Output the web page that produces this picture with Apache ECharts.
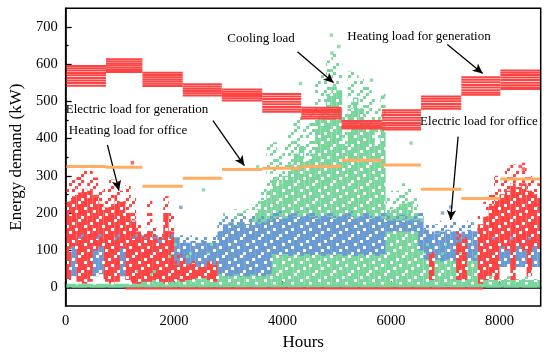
<!DOCTYPE html>
<html><head><meta charset="utf-8">
<script src="https://cdn.jsdelivr.net/npm/echarts@6/dist/echarts.min.js"></script>
<style>html,body{margin:0;padding:0;background:#fff}#c{width:550px;height:356px}</style>
</head><body><div id="c"></div>
<script>
// ---------- DATA ----------
const monthEdges = [0,744,1416,2160,2880,3624,4344,5088,5832,6552,7296,8016,8760];
const elecGen = [325,323,272,293,317,320,325,342,329,264,239,291];
const heatGen = [
  [595,589,583,576,570,563,556,549,542],
  [613,607,601,596,590,584,579],
  [577,571,565,559,553,547,541],
  [546,540,534,528,522,516],
  [532,526,520,514,508,502],
  [520,513,506,499,492,485,478,472],
  [483,477,471,465,459,454],
  [447,441,436,431,427],
  [476,470,463,456,449,442,436,429,424],
  [513,507,500,493,486,480],
  [565,558,551,544,537,530,523,518],
  [583,577,571,564,557,550,543,537,533]
];
const colWidth = 100; // hours per column of the dense scatter clouds
const N = null;
const heatOfficeLow  = [20,110,15,10,15,100,110,15,10,15,105,20,10,10,15,15,20,15,10,15,20,15,20,20,25,25,20,15,N,N,N,N,N,N,N,N,N,N,N,N,N,N,N,N,N,N,N,N,N,N,N,N,N,N,N,N,N,N,N,N,N,N,N,N,N,N,N,20,N,N,N,N,20,20,N,N,10,20,30,20,110,100,20,110,100,30,110,100];
const heatOfficeMid  = [230,245,255,265,260,245,225,215,220,240,230,200,180,150,130,150,130,120,200,150,60,75,60,65,55,50,70,60,N,N,N,N,N,N,N,N,N,N,N,N,N,N,N,N,N,N,N,N,N,N,N,N,N,N,N,N,N,N,N,N,N,N,N,N,N,N,N,90,N,N,N,N,120,130,N,N,170,190,220,240,250,260,280,270,280,260,250,240];
const heatOfficeHigh = [290,290,310,320,320,295,260,265,290,285,260,275,240,170,160,235,160,150,245,200,90,90,75,75,65,60,80,75,N,N,N,N,N,N,N,N,N,N,N,N,N,N,N,N,N,N,N,N,N,N,N,N,N,N,N,N,N,N,N,N,N,N,N,N,N,N,N,100,N,N,N,N,150,155,N,N,200,230,260,300,290,320,330,320,335,300,290,280];
const elecOfficeLow  = [35,30,30,35,30,30,35,30,30,35,30,30,35,30,30,35,30,30,35,30,30,30,35,30,30,35,30,30,35,30,30,35,30,30,35,30,30,35,90,85,90,85,90,85,90,85,90,85,90,85,90,85,90,85,90,85,90,85,90,150,150,150,150,150,150,100,75,70,75,70,75,70,75,70,75,70,55,55,55,55,55,55,55,55,55,55,55,55];
const elecOfficeMid  = [140,135,130,125,135,130,125,130,135,125,130,135,130,135,140,135,140,135,140,130,135,125,120,125,120,125,120,125,150,170,175,165,175,170,175,170,175,180,185,190,185,195,190,190,195,190,185,195,190,185,190,195,190,185,190,195,185,190,185,180,180,180,180,180,180,185,155,150,145,150,155,150,145,150,155,150,120,120,120,120,120,120,120,120,120,120,120,120];
const elecOfficeHigh = [160,155,150,150,155,150,145,150,155,150,150,155,150,155,155,150,155,150,155,150,150,140,135,140,135,140,135,140,175,190,190,185,195,190,195,190,195,195,200,205,200,205,205,200,210,205,200,205,200,200,205,210,205,200,205,205,200,205,200,195,195,195,195,195,195,200,180,175,170,180,175,185,170,175,180,175,135,135,135,135,135,135,135,135,135,135,135,135];
const coolingMid  = [10,10,10,10,10,10,10,10,10,10,10,10,10,40,45,30,35,70,60,65,90,90,70,75,70,110,90,95,140,160,165,170,175,170,185,210,235,260,290,280,300,330,360,380,340,360,450,480,520,540,530,380,480,510,480,440,430,380,440,200,210,220,225,230,200,150,90,85,90,80,90,85,90,80,85,70,20,20,20,20,20,20,20,20,20,20,20,20];
const coolingHigh = [10,10,10,10,10,10,10,10,10,10,10,10,10,60,60,45,50,95,85,90,125,120,100,100,95,140,120,120,185,200,205,210,205,210,220,240,280,385,390,360,400,420,460,480,440,470,570,570,610,630,610,470,580,585,560,540,530,480,520,240,260,260,280,270,240,200,125,120,125,115,125,120,125,110,120,100,30,30,30,30,30,30,30,30,30,30,30,30];
const coolingBase = [[0, 8760, 4]];
const coolingSpikes = [[2540,262],[3540,324],[4330,548],[4910,630],[4900,678],[5036,647],[5640,557],[5860,512],[6370,388]];
const elecOfficeSpikes = [[2125,215],[7100,216],[6950,200]];
const heatOfficeSpikes = [[1230,335],[8380,325],[8440,318]];
const heatOfficeBase = [[1100, 7700, -3]];
const xLabels = [0,2000,4000,6000,8000];
const xMinor = [1000,3000,5000,7000];
const yLabels = [0,100,200,300,400,500,600,700];
const yMinor = [50,150,250,350,450,550,650];

// ---------- STYLE ----------
const RED = '#FF4242', GREEN = '#78D69C', BLUE = '#6A9AD3', ORANGE = '#FFAD60';
const FONT = '"Liberation Serif","Times New Roman",serif';
// texture masks (6x6 cells of 3 px) to imitate densely packed square markers
const DENSE = ['111011','110111','011111','111101','101111','111110'];
const SPARSE = ['100100','001001','010000','100010','000100','011000'];
function pattern(color, mask) {
  const c = document.createElement('canvas');
  c.width = 18; c.height = 18;
  const g = c.getContext('2d');
  g.fillStyle = color;
  mask.forEach((row, r) => row.split('').forEach((ch, k) => {
    if (ch === '1') g.fillRect(k * 3, r * 3, 3, 3);
  }));
  return { type: 'pattern', image: c, repeat: 'repeat' };
}

function cloud(name, low, mid, high, color, z) {
  const data = [];
  low.forEach((l, i) => {
    if (l == null) return;
    data.push([i * colWidth, Math.min((i + 1) * colWidth, 8760), l, mid[i], high[i]]);
  });
  const dense = pattern(color, DENSE), sparse = pattern(color, SPARSE);
  return {
    type: 'custom', name, z, clip: true, silent: true,
    encode: { x: [0, 1], y: [2, 3, 4] },
    data,
    renderItem(params, api) {
      const p0 = api.coord([api.value(0), api.value(2)]);
      const p1 = api.coord([api.value(1), api.value(3)]);
      const p2 = api.coord([api.value(1), api.value(4)]);
      return { type: 'group', children: [
        { type: 'rect', shape: { x: p0[0], y: p2[1], width: p1[0] - p0[0], height: p1[1] - p2[1] }, style: { fill: sparse } },
        { type: 'rect', shape: { x: p0[0], y: p1[1], width: p1[0] - p0[0], height: p0[1] - p1[1] }, style: { fill: dense } }
      ]};
    }
  };
}
function segs(name, rows, color, width, z) {
  return {
    type: 'custom', name, z, clip: true, silent: true,
    encode: { x: [0, 1], y: 2 },
    data: rows,
    renderItem(params, api) {
      const a = api.coord([api.value(0), api.value(2)]);
      const b = api.coord([api.value(1), api.value(2)]);
      return { type: 'line', shape: { x1: a[0], y1: a[1], x2: b[0], y2: b[1] }, style: { stroke: color, lineWidth: width } };
    }
  };
}
const heatGenRows = [];
heatGen.forEach((lv, m) => lv.forEach(v => heatGenRows.push([monthEdges[m], monthEdges[m + 1], v])));
const elecGenRows = elecGen.map((v, m) => [monthEdges[m], monthEdges[m + 1], v]);

const axisTxt = { fontFamily: FONT, fontSize: 14.5, color: '#000', formatter: v => String(v) };
const chart = echarts.init(document.getElementById('c'), null, { renderer: 'canvas' });
chart.setOption({
  animation: false,
  grid: { left: 57.5, right: 9.3, top: 8.3, bottom: 50, show: true, borderColor: '#000', borderWidth: 1.5, backgroundColor: 'transparent', z: 10 },
  xAxis: [
    { type: 'value', min: 0, max: 8760, position: 'bottom', splitLine: { show: false },
      axisLine: { show: true, lineStyle: { color: '#000', width: 1.5 } },
      axisTick: { show: true, inside: true, length: 6, customValues: xLabels, lineStyle: { color: '#000', width: 1.3 } },
      axisLabel: { customValues: xLabels, margin: 8, ...axisTxt },
      name: 'Hours', nameLocation: 'middle', nameGap: 27, nameTextStyle: { fontFamily: FONT, fontSize: 17, color: '#000' } },
    { type: 'value', min: 0, max: 8760, position: 'bottom', splitLine: { show: false },
      axisLine: { show: false },
      axisTick: { show: true, inside: true, length: 3, customValues: xMinor, lineStyle: { color: '#000', width: 1.3 } },
      axisLabel: { show: false } }
  ],
  yAxis: [
    { type: 'value', min: -50, max: 750, position: 'left', splitLine: { show: false },
      axisLine: { show: true, lineStyle: { color: '#000', width: 1.5 } },
      axisTick: { show: true, inside: true, length: 6, customValues: yLabels, lineStyle: { color: '#000', width: 1.3 } },
      axisLabel: { customValues: yLabels, margin: 8, ...axisTxt },
      name: 'Energy demand (kW)', nameLocation: 'middle', nameGap: 34, nameTextStyle: { fontFamily: FONT, fontSize: 17, color: '#000' } },
    { type: 'value', min: -50, max: 750, position: 'left', splitLine: { show: false },
      axisLine: { show: false },
      axisTick: { show: true, inside: true, length: 3, customValues: yMinor, lineStyle: { color: '#000', width: 1.3 } },
      axisLabel: { show: false } }
  ],
  series: [
    segs('Cooling base', coolingBase, GREEN, 3, 1),
    cloud('Cooling load', coolingMid.map(() => 0), coolingMid, coolingHigh, GREEN, 1),
    cloud('Electric load for office', elecOfficeLow, elecOfficeMid, elecOfficeHigh, BLUE, 2),
    cloud('Heating load for office', heatOfficeLow, heatOfficeMid, heatOfficeHigh, RED, 3),
    segs('Heating office base', heatOfficeBase, RED, 2.2, 3),
    { type: 'scatter', name: 'cool spikes', data: coolingSpikes, symbol: 'rect', symbolSize: 3.5, itemStyle: { color: GREEN }, z: 4, silent: true },
    { type: 'scatter', name: 'elec spikes', data: elecOfficeSpikes, symbol: 'rect', symbolSize: 3.5, itemStyle: { color: BLUE }, z: 4, silent: true },
    { type: 'scatter', name: 'heat spikes', data: heatOfficeSpikes, symbol: 'rect', symbolSize: 3.5, itemStyle: { color: RED }, z: 4, silent: true },
    segs('Electric load for generation', elecGenRows, ORANGE, 3, 5),
    segs('Heating load for generation', heatGenRows, RED, 2, 6),
    { type: 'line', name: 'arrows', data: [], z: 8, silent: true,
      markLine: { silent: true, symbol: ['none', 'arrow'], symbolSize: [7, 10], animation: false,
        label: { show: false }, lineStyle: { color: '#000', width: 1.3, type: 'solid' },
        data: [
          [{ coord: [4275, 633] }, { coord: [4941, 550] }],
          [{ coord: [7038, 653] }, { coord: [7690, 575] }],
          [{ coord: [2716, 448] }, { coord: [3296, 327] }],
          [{ coord: [770, 383] }, { coord: [983, 260] }],
          [{ coord: [7237, 405] }, { coord: [7098, 181] }]
        ] } }
  ],
  graphic: [
    { type: 'text', x: 261, y: 39, z: 100, style: { text: 'Cooling load', font: '13px ' + FONT, fill: '#000', align: 'center', verticalAlign: 'middle' } },
    { type: 'text', x: 419, y: 37, z: 100, style: { text: 'Heating load for generation', font: '13px ' + FONT, fill: '#000', align: 'center', verticalAlign: 'middle' } },
    { type: 'text', x: 137, y: 110, z: 100, style: { text: 'Electric load for generation', font: '13px ' + FONT, fill: '#000', align: 'center', verticalAlign: 'middle' } },
    { type: 'text', x: 128, y: 131, z: 100, style: { text: 'Heating load for office', font: '13px ' + FONT, fill: '#000', align: 'center', verticalAlign: 'middle' } },
    { type: 'text', x: 479, y: 122, z: 100, style: { text: 'Electric load for office', font: '13px ' + FONT, fill: '#000', align: 'center', verticalAlign: 'middle' } }
  ]
});
</script></body></html>
